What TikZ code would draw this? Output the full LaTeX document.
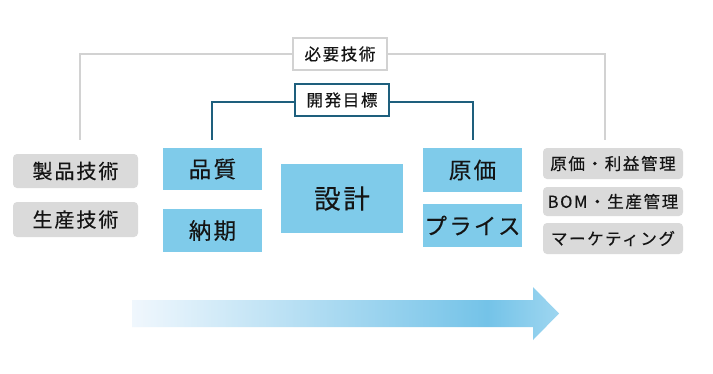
\documentclass[tikz,border=0pt]{standalone}
\usepackage{fontspec}
\setmainfont{Noto Sans CJK JP}[LetterSpace=10,FakeBold=0.4]
\definecolor{lblue}{RGB}{127,203,234}
\definecolor{gbox}{RGB}{218,218,218}
\definecolor{gline}{RGB}{210,210,210}
\definecolor{teal}{RGB}{30,95,125}
\definecolor{txt}{RGB}{20,20,20}
\definecolor{arA}{RGB}{240,247,253}
\definecolor{arB}{RGB}{116,195,232}
\definecolor{arC}{RGB}{158,214,240}
\pgfdeclarehorizontalshading{arrowshade}{100bp}{color(0bp)=(arA); color(25bp)=(arA); color(66.6bp)=(arB); color(75bp)=(arC); color(100bp)=(arC)}
\begin{document}
\begin{tikzpicture}[x=1pt,y=-1pt,
  bluebox/.style={fill=lblue, draw=none, inner sep=0pt, text=txt, font=\fontsize{22.5}{26}\selectfont},
  graybox/.style={fill=gbox, draw=none, rounded corners=4pt, inner sep=0pt, text=txt, font=\fontsize{20}{23}\selectfont},
  smallgray/.style={fill=gbox, draw=none, rounded corners=4pt, inner sep=0pt, text=txt, font=\fontsize{16.5}{19}\selectfont, minimum width=140pt},
  labelbox/.style={fill=white, line width=1.6pt, inner sep=0pt, text=txt, font=\fontsize{16.5}{19}\selectfont, minimum width=94pt, minimum height=32pt},
  grayline/.style={draw=gline, line width=1.8pt},
  tealline/.style={draw=teal, line width=1.8pt}]
\useasboundingbox (0,0) rectangle (713,373);
\fill[white] (0,0) rectangle (713,373);

% connector lines
\coordinate (gL) at (80,140);
\coordinate (gR) at (605,140);
\coordinate (tL) at (212,140);
\coordinate (tR) at (473,140);
\node[labelbox, draw=gline] (hitsuyo) at (340,54) {必要技術};
\node[labelbox, draw=teal] (kaihatsu) at (342,100) {開発目標};
\draw[grayline] (hitsuyo.west) -| (gL);
\draw[grayline] (hitsuyo.east) -| (gR);
\draw[tealline] ([yshift=-2pt]kaihatsu.west) -| (tL);
\draw[tealline] ([yshift=-2pt]kaihatsu.east) -| (tR);
\node[labelbox, draw=gline] at (hitsuyo) {必要技術};
\node[labelbox, draw=teal] at (kaihatsu) {開発目標};

% left gray boxes
\node[graybox, minimum width=125pt, minimum height=34pt] (seihin) at (75.5,171) {製品技術};
\node[graybox, minimum width=125pt, minimum height=35pt] (seisan) at (75.5,219.5) {生産技術};

% blue boxes
\node[bluebox, minimum width=99pt, minimum height=42pt] (hinshitsu) at (212.5,169) {品質};
\node[bluebox, minimum width=99pt, minimum height=43pt] (nouki) at (212.5,230.5) {納期};
\node[bluebox, minimum width=122pt, minimum height=69pt, font=\fontsize{26.5}{30}\selectfont] (sekkei) at (342,198.5) {設計};
\node[bluebox, minimum width=99pt, minimum height=44pt] (genka) at (472.5,170) {原価};
\node[bluebox, minimum width=99pt, minimum height=43pt] (price) at (472.5,225.5) {プライス};

% right gray boxes
\node[smallgray, minimum height=31pt] (rieki) at (613,163.5) {原価・利益管理};
\node[smallgray, minimum height=29pt] (bom) at (613,201.5) {BOM・生産管理};
\node[smallgray, minimum height=31pt] (mkt) at (613,238.5) {マーケティング};

% gradient arrow
\shade[shading=arrowshade] (132,300) -- (533,300) -- (533,287) -- (559,313.5) -- (533,340) -- (533,327) -- (132,327) -- cycle;
\end{tikzpicture}
\end{document}
